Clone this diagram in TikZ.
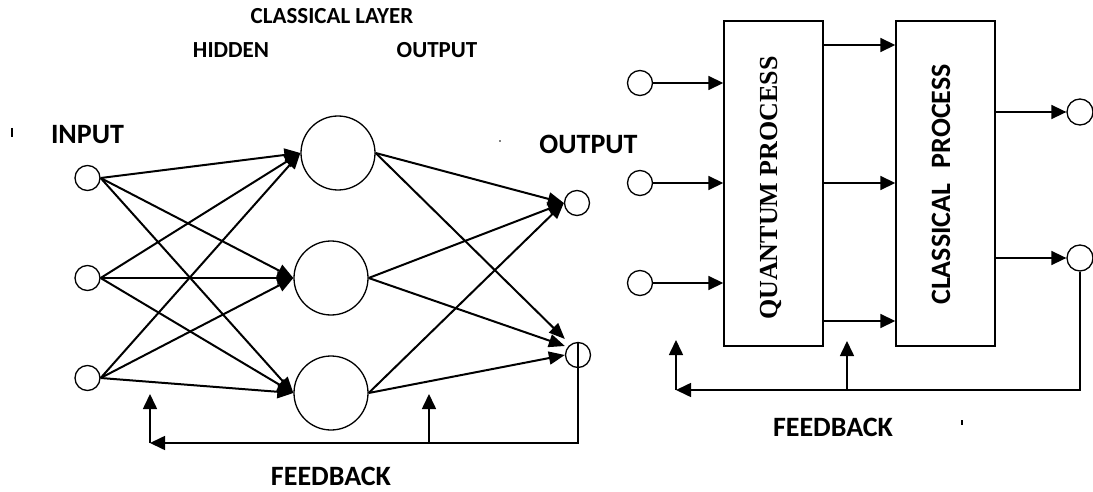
\documentclass[tikz,border=0pt]{standalone}
\usepackage{fontspec}
\setmainfont{Carlito}
\newfontfamily\tmsfont{Liberation Serif}
\usetikzlibrary{arrows.meta}
\begin{document}
\begin{tikzpicture}[x=1pt,y=-1pt,
  neuron/.style={circle, draw, line width=1.3pt, inner sep=0pt, minimum size=#1},
  procbox/.style={draw, line width=1.4pt, inner sep=0pt, minimum width=99pt, minimum height=325pt},
  netarrow/.style={line width=2pt, -{Triangle[length=16pt,width=13pt]}},
  flowarrow/.style={line width=1.6pt, -{Triangle[length=15pt,width=14pt]}},
  fbarrow/.style={line width=1.6pt, -{Triangle[length=15pt,width=14pt]}},
  lbl/.style={inner sep=0pt, font=\bfseries\fontsize{#1}{#1}\selectfont},
  straymark/.style={line width=1.4pt}
]
\useasboundingbox (0,0) rectangle (1093,492);

% ---------- left: classical network ----------
\node[lbl=23] (tcl) at (332,16.5) {CLASSICAL LAYER};
\node[lbl=23] (thid) at (231,50) {HIDDEN};
\node[lbl=23] (tout) at (437,50) {OUTPUT};
\node[lbl=28] (tin) at (87.5,135) {INPUT};
\node[lbl=28] (tout2) at (588.5,144) {OUTPUT};
\node[lbl=28] (tfb1) at (331,476) {FEEDBACK};

\node[neuron=25pt] (i1) at (87.5,178) {};
\node[neuron=25pt] (i2) at (87.5,278) {};
\node[neuron=25pt] (i3) at (87.5,378) {};
\node[neuron=74pt] (h1) at (338,153) {};
\node[neuron=74pt] (h2) at (331,278) {};
\node[neuron=74pt] (h3) at (331,393) {};
\node[neuron=25pt] (o1) at (577,203) {};
\node[neuron=25pt] (o2) at (578,355) {};

\foreach \i in {1,2,3}{
  \foreach \h in {1,2,3}{
    \draw[netarrow] (i\i.east) -- (h\h.west);
  }
}
\foreach \h in {1,2,3}{
  \draw[netarrow] (h\h.east) -- (o1.west);
}
\draw[netarrow] (h1.east) -- ([yshift=16pt]o2.west);
\draw[netarrow] (h2.east) -- ([yshift=9pt]o2.west);
\draw[netarrow] (h3.east) -- (o2.west);

\coordinate (lfb) at (150,443);
\coordinate (lup1) at (150,394);
\coordinate (lbr) at (429,443);
\coordinate (lup2) at (429,394);
\draw[fbarrow] (o2.north) |- (lfb);
\draw[fbarrow] (lfb) -- (lup1);
\draw[fbarrow] (lbr) -- (lup2);

% ---------- right: hybrid process ----------
\node[procbox] (qbox) at (773.5,183.5) {};
\node[procbox] (cbox) at (945.5,183.5) {};
\node[inner sep=0pt, text depth=0pt, rotate=90, font=\tmsfont\bfseries\fontsize{26}{26}\selectfont] (tq) at (769,188) {QUANTUM PROCESS};
\node[lbl=28, rotate=90] (tc) at (941,184.5) {CLASSICAL\hspace{0.55em}PROCESS};

\node[neuron=25pt] (r1) at (640,83) {};
\node[neuron=25pt] (r2) at (640,183) {};
\node[neuron=25pt] (r3) at (640,283) {};
\node[neuron=26pt] (ro1) at (1080,112) {};
\node[neuron=26pt] (ro2) at (1080,258) {};

\foreach \r in {1,2,3}{
  \draw[flowarrow] (r\r.east) -- (qbox.west |- r\r.east);
}
\coordinate (m1) at (860,45);
\coordinate (m2) at (860,183);
\coordinate (m3) at (860,321);
\foreach \m in {1,2,3}{
  \draw[flowarrow] (qbox.east |- m\m) -- (cbox.west |- m\m);
}
\draw[flowarrow] (cbox.east |- ro1.west) -- (ro1.west);
\draw[flowarrow] (cbox.east |- ro2.west) -- (ro2.west);

\coordinate (rfb) at (676,390);
\coordinate (rup1) at (676,340);
\coordinate (rbr) at (847,390);
\coordinate (rup2) at (847,341);
\draw[fbarrow] (ro2.south) |- (rfb);
\draw[fbarrow] (rfb) -- (rup1);
\draw[fbarrow] (rbr) -- (rup2);
\node[lbl=28] (tfb2) at (833,427) {FEEDBACK};

% stray marks of the reference
\draw[straymark] (12,128) -- (12,137);
\fill (500,141) circle (0.8pt);
\draw[straymark] (962,420) -- (962,425);
\end{tikzpicture}
\end{document}
